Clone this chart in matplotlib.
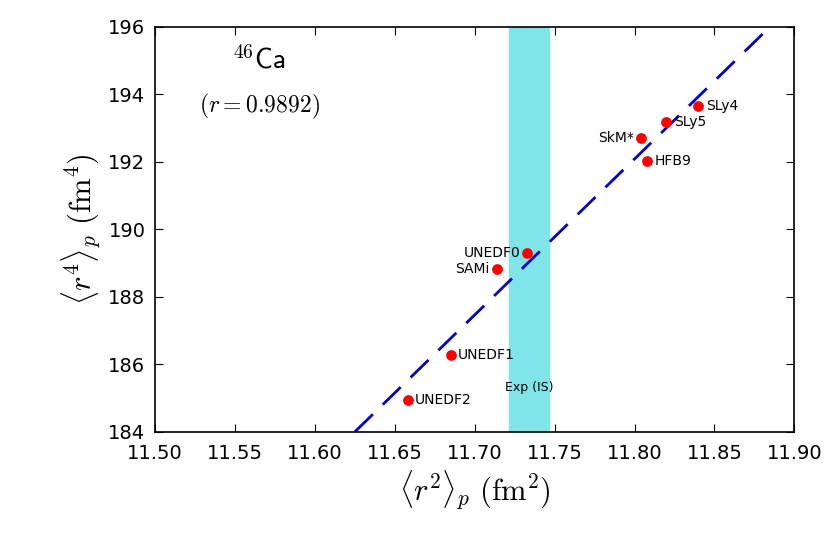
import matplotlib
matplotlib.use("Agg")
import matplotlib.pyplot as plt
import numpy as np

plt.rcParams['mathtext.fontset'] = 'cm'

names = ["SLy4", "SLy5", "SkM*", "HFB9", "UNEDF0", "SAMi", "UNEDF1", "UNEDF2"]
r2 = [11.840, 11.820, 11.804, 11.808, 11.733, 11.714, 11.685, 11.658]
r4 = [193.66, 193.19, 192.71, 192.03, 189.30, 188.83, 186.28, 184.95]
label_side = ["r", "r", "l", "r", "l", "l", "r", "r"]
fit_x = [11.625, 11.889]
fit_y = [184.0, 196.2]
band = [11.7216, 11.7466]
xticks = [11.50, 11.55, 11.60, 11.65, 11.70, 11.75, 11.80, 11.85, 11.90]
yticks = [184, 186, 188, 190, 192, 194, 196]

fig = plt.figure(figsize=(8.3, 5.5), dpi=100)
ax = fig.add_axes([0.187, 0.215, 0.770, 0.736])
ax.axvspan(band[0], band[1], color='#7fe5e8', zorder=1)
ax.plot(fit_x, fit_y, color='#0000c8', lw=2, dashes=(9, 5), zorder=2)
ax.scatter(r2, r4, color='#ff0000', s=45, zorder=3)
for n, x, y, s in zip(names, r2, r4, label_side):
    if s == "r":
        ax.text(x + 0.0045, y, n, fontsize=10, va='center', ha='left', zorder=4)
    else:
        ax.text(x - 0.0045, y, n, fontsize=10, va='center', ha='right', zorder=4)
ax.text(11.7341, 185.3, "Exp (IS)", fontsize=9, ha='center', va='center')
ax.text(11.565, 195.0, r"$^{46}\mathsf{Ca}$", fontsize=20, ha='center', va='center')
ax.text(11.565, 193.65, r"$(r=0.9892)$", fontsize=17, ha='center', va='center')
ax.set_xlim(11.50, 11.90)
ax.set_ylim(184, 196)
ax.set_xticks(xticks)
ax.set_xticklabels([f"{v:.2f}" for v in xticks])
ax.set_yticks(yticks)
ax.tick_params(labelsize=14, direction='in', length=6, top=True, right=True)
ax.tick_params(axis='x', pad=9)
ax.tick_params(axis='y', pad=7)
ax.set_xlabel(r"$\langle r^2\rangle_p\ (\mathrm{fm}^2)$", fontsize=22)
ax.set_ylabel(r"$\langle r^4\rangle_p\ (\mathrm{fm}^4)$", fontsize=22)
for sp in ax.spines.values():
    sp.set_linewidth(1.2)
fig.savefig("out.png", dpi=100)
